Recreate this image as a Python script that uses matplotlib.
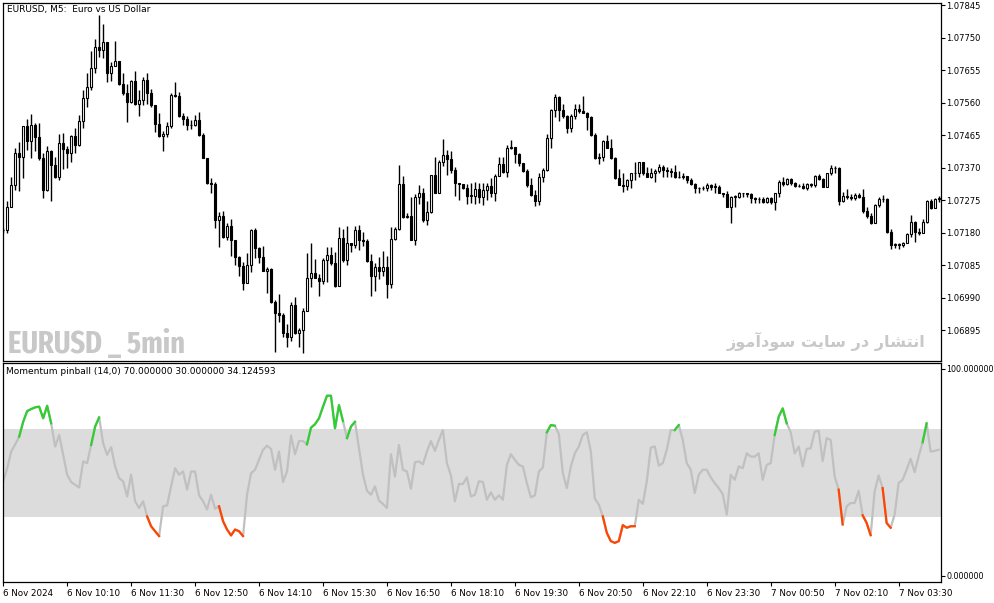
import numpy as np
import matplotlib
matplotlib.use("Agg")
import matplotlib.pyplot as plt
from matplotlib import font_manager

# EURUSD M5 candles, 6 Nov 2024 08:50 -> 7 Nov 2024 04:20
close = [
    1.07187, 1.07255, 1.07320, 1.07413, 1.07401, 1.07492, 1.07449, 1.07495, 1.07461, 1.07400,
    1.07305, 1.07419, 1.07377, 1.07344, 1.07442, 1.07424, 1.07413, 1.07463, 1.07437, 1.07507,
    1.07573, 1.07605, 1.07661, 1.07722, 1.07714, 1.07737, 1.07646, 1.07668, 1.07682, 1.07614,
    1.07588, 1.07563, 1.07624, 1.07556, 1.07568, 1.07627, 1.07588, 1.07554, 1.07497, 1.07463,
    1.07468, 1.07492, 1.07583, 1.07581, 1.07520, 1.07512, 1.07495, 1.07495, 1.07510, 1.07466,
    1.07398, 1.07325, 1.07323, 1.07218, 1.07230, 1.07169, 1.07200, 1.07159, 1.07111, 1.07082,
    1.07035, 1.07086, 1.07188, 1.07135, 1.07109, 1.07070, 1.07075, 1.06979, 1.06945, 1.06939,
    1.06887, 1.06875, 1.06968, 1.06887, 1.06896, 1.06952, 1.07047, 1.07062, 1.07049, 1.07040,
    1.07101, 1.07115, 1.07093, 1.07025, 1.07164, 1.07101, 1.07150, 1.07145, 1.07188, 1.07159,
    1.07155, 1.07098, 1.07055, 1.07079, 1.07070, 1.07079, 1.07031, 1.07161, 1.07190, 1.07323,
    1.07225, 1.07230, 1.07159, 1.07284, 1.07296, 1.07218, 1.07240, 1.07349, 1.07297, 1.07387,
    1.07407, 1.07396, 1.07364, 1.07325, 1.07323, 1.07310, 1.07289, 1.07289, 1.07307, 1.07284,
    1.07305, 1.07317, 1.07297, 1.07346, 1.07381, 1.07359, 1.07429, 1.07431, 1.07410, 1.07383,
    1.07362, 1.07320, 1.07291, 1.07274, 1.07342, 1.07364, 1.07456, 1.07539, 1.07576, 1.07539,
    1.07521, 1.07487, 1.07521, 1.07541, 1.07537, 1.07531, 1.07519, 1.07466, 1.07400, 1.07403,
    1.07448, 1.07429, 1.07398, 1.07339, 1.07320, 1.07318, 1.07333, 1.07354, 1.07354, 1.07386,
    1.07354, 1.07342, 1.07356, 1.07362, 1.07371, 1.07364, 1.07362, 1.07359, 1.07342, 1.07342,
    1.07346, 1.07334, 1.07322, 1.07310, 1.07310, 1.07312, 1.07320, 1.07315, 1.07315, 1.07297,
    1.07294, 1.07257, 1.07286, 1.07286, 1.07297, 1.07296, 1.07294, 1.07281, 1.07278, 1.07279,
    1.07271, 1.07281, 1.07271, 1.07296, 1.07330, 1.07322, 1.07336, 1.07327, 1.07317, 1.07318,
    1.07312, 1.07322, 1.07320, 1.07346, 1.07337, 1.07315, 1.07354, 1.07370, 1.07369, 1.07274,
    1.07288, 1.07286, 1.07281, 1.07291, 1.07286, 1.07245, 1.07229, 1.07210, 1.07261, 1.07278,
    1.07279, 1.07184, 1.07145, 1.07145, 1.07145, 1.07151, 1.07176, 1.07213, 1.07184, 1.07181,
    1.07213, 1.07273, 1.07252, 1.07278, 1.07281,
]
high = [
    1.07194, 1.07274, 1.07342, 1.07429, 1.07444, 1.07492, 1.07512, 1.07527, 1.07502, 1.07502,
    1.07413, 1.07434, 1.07422, 1.07403, 1.07469, 1.07473, 1.07434, 1.07466, 1.07486, 1.07524,
    1.07597, 1.07648, 1.07711, 1.07745, 1.07816, 1.07789, 1.07729, 1.07680, 1.07741, 1.07682,
    1.07646, 1.07615, 1.07627, 1.07653, 1.07597, 1.07636, 1.07648, 1.07599, 1.07554, 1.07531,
    1.07478, 1.07505, 1.07588, 1.07622, 1.07590, 1.07529, 1.07522, 1.07510, 1.07524, 1.07534,
    1.07471, 1.07398, 1.07340, 1.07330, 1.07242, 1.07244, 1.07208, 1.07220, 1.07159, 1.07113,
    1.07096, 1.07122, 1.07191, 1.07193, 1.07140, 1.07143, 1.07079, 1.07077, 1.06984, 1.07002,
    1.06947, 1.06914, 1.06978, 1.06992, 1.06901, 1.06962, 1.07122, 1.07150, 1.07104, 1.07060,
    1.07106, 1.07140, 1.07140, 1.07124, 1.07198, 1.07190, 1.07200, 1.07151, 1.07200, 1.07203,
    1.07182, 1.07161, 1.07118, 1.07091, 1.07109, 1.07127, 1.07113, 1.07196, 1.07198, 1.07378,
    1.07346, 1.07237, 1.07286, 1.07294, 1.07320, 1.07310, 1.07273, 1.07349, 1.07401, 1.07393,
    1.07453, 1.07422, 1.07420, 1.07371, 1.07327, 1.07323, 1.07323, 1.07327, 1.07330, 1.07327,
    1.07327, 1.07327, 1.07339, 1.07352, 1.07403, 1.07403, 1.07437, 1.07451, 1.07427, 1.07412,
    1.07385, 1.07366, 1.07339, 1.07305, 1.07356, 1.07369, 1.07468, 1.07541, 1.07585, 1.07581,
    1.07556, 1.07523, 1.07527, 1.07556, 1.07556, 1.07580, 1.07534, 1.07521, 1.07473, 1.07414,
    1.07451, 1.07466, 1.07453, 1.07403, 1.07366, 1.07354, 1.07336, 1.07356, 1.07386, 1.07386,
    1.07388, 1.07371, 1.07370, 1.07366, 1.07381, 1.07378, 1.07373, 1.07369, 1.07378, 1.07362,
    1.07356, 1.07346, 1.07339, 1.07327, 1.07315, 1.07317, 1.07325, 1.07323, 1.07325, 1.07320,
    1.07297, 1.07303, 1.07288, 1.07291, 1.07300, 1.07297, 1.07297, 1.07296, 1.07284, 1.07284,
    1.07286, 1.07286, 1.07284, 1.07297, 1.07334, 1.07344, 1.07339, 1.07339, 1.07330, 1.07323,
    1.07325, 1.07327, 1.07327, 1.07349, 1.07352, 1.07339, 1.07356, 1.07378, 1.07375, 1.07373,
    1.07300, 1.07307, 1.07294, 1.07297, 1.07296, 1.07307, 1.07255, 1.07237, 1.07264, 1.07286,
    1.07291, 1.07281, 1.07190, 1.07151, 1.07151, 1.07154, 1.07179, 1.07232, 1.07216, 1.07193,
    1.07220, 1.07276, 1.07278, 1.07281, 1.07288,
]
low = [
    1.07181, 1.07181, 1.07267, 1.07305, 1.07301, 1.07340, 1.07422, 1.07400, 1.07420, 1.07393,
    1.07283, 1.07301, 1.07274, 1.07340, 1.07333, 1.07366, 1.07369, 1.07388, 1.07413, 1.07434,
    1.07486, 1.07547, 1.07597, 1.07648, 1.07695, 1.07690, 1.07622, 1.07624, 1.07666, 1.07612,
    1.07583, 1.07505, 1.07559, 1.07554, 1.07522, 1.07554, 1.07557, 1.07549, 1.07476, 1.07461,
    1.07420, 1.07461, 1.07486, 1.07578, 1.07518, 1.07495, 1.07479, 1.07483, 1.07492, 1.07463,
    1.07398, 1.07323, 1.07296, 1.07194, 1.07140, 1.07164, 1.07158, 1.07113, 1.07086, 1.07055,
    1.07013, 1.07033, 1.07067, 1.07106, 1.07093, 1.07070, 1.07004, 1.06976, 1.06833, 1.06921,
    1.06875, 1.06846, 1.06865, 1.06885, 1.06848, 1.06830, 1.06955, 1.07021, 1.07047, 1.06996,
    1.07030, 1.07038, 1.07086, 1.07023, 1.07025, 1.07096, 1.07086, 1.07125, 1.07135, 1.07130,
    1.07143, 1.07096, 1.06996, 1.07011, 1.07044, 1.07054, 1.06989, 1.07018, 1.07158, 1.07188,
    1.07223, 1.07224, 1.07159, 1.07145, 1.07264, 1.07213, 1.07203, 1.07237, 1.07295, 1.07300,
    1.07375, 1.07349, 1.07356, 1.07288, 1.07276, 1.07307, 1.07264, 1.07266, 1.07264, 1.07268,
    1.07261, 1.07276, 1.07286, 1.07274, 1.07349, 1.07354, 1.07342, 1.07424, 1.07383, 1.07376,
    1.07359, 1.07315, 1.07288, 1.07259, 1.07261, 1.07330, 1.07362, 1.07427, 1.07517, 1.07508,
    1.07514, 1.07471, 1.07476, 1.07512, 1.07529, 1.07529, 1.07479, 1.07463, 1.07395, 1.07381,
    1.07391, 1.07427, 1.07395, 1.07336, 1.07320, 1.07300, 1.07305, 1.07310, 1.07334, 1.07344,
    1.07349, 1.07342, 1.07339, 1.07330, 1.07356, 1.07344, 1.07344, 1.07344, 1.07339, 1.07339,
    1.07336, 1.07325, 1.07320, 1.07297, 1.07296, 1.07305, 1.07303, 1.07305, 1.07297, 1.07297,
    1.07286, 1.07255, 1.07210, 1.07257, 1.07281, 1.07284, 1.07284, 1.07268, 1.07266, 1.07266,
    1.07266, 1.07268, 1.07264, 1.07247, 1.07286, 1.07317, 1.07320, 1.07320, 1.07315, 1.07313,
    1.07308, 1.07305, 1.07313, 1.07315, 1.07334, 1.07313, 1.07315, 1.07349, 1.07354, 1.07261,
    1.07271, 1.07278, 1.07276, 1.07276, 1.07281, 1.07237, 1.07223, 1.07206, 1.07210, 1.07257,
    1.07271, 1.07181, 1.07132, 1.07135, 1.07132, 1.07138, 1.07150, 1.07169, 1.07154, 1.07174,
    1.07179, 1.07208, 1.07249, 1.07252, 1.07271,
]
first_open = 1.07187

# Momentum pinball (14,0) values, one per bar
pinball = [
    46.1, 52.1, 59.7, 63.0, 66.5, 73.3, 78.2, 79.1, 79.9, 80.2,
    74.9, 80.6, 72.6, 62.0, 67.3, 58.2, 49.1, 45.8, 44.5, 43.3,
    55.2, 54.4, 62.7, 71.1, 75.3, 63.5, 58.2, 61.7, 52.9, 47.6,
    46.1, 39.2, 49.1, 37.0, 33.9, 37.0, 30.1, 25.6, 23.3, 21.1,
    34.7, 35.1, 43.8, 52.1, 49.1, 50.6, 42.3, 50.6, 50.6, 39.7,
    37.0, 33.2, 40.0, 33.6, 34.7, 27.9, 24.1, 21.4, 24.1, 23.3,
    21.1, 40.0, 49.8, 51.4, 55.9, 60.5, 62.4, 60.9, 51.4, 59.7,
    45.8, 50.6, 67.0, 58.5, 64.5, 64.5, 63.0, 70.6, 72.2, 74.9,
    80.2, 85.2, 85.2, 70.3, 80.9, 73.6, 65.8, 71.1, 73.3, 61.2,
    49.1, 41.8, 40.0, 43.8, 37.3, 35.8, 33.9, 58.5, 48.3, 62.7,
    51.4, 50.6, 42.7, 54.8, 55.2, 53.9, 59.7, 64.5, 60.0, 65.0,
    69.5, 54.4, 48.8, 37.0, 44.9, 44.9, 47.9, 39.2, 40.0, 46.1,
    45.8, 37.7, 41.1, 37.7, 39.7, 37.7, 53.6, 58.5, 55.9, 53.6,
    52.9, 45.3, 38.8, 39.7, 50.6, 52.4, 68.5, 71.8, 71.5, 67.7,
    49.8, 43.0, 52.9, 58.9, 62.0, 67.3, 68.5, 59.7, 38.2, 35.5,
    30.1, 22.6, 18.8, 18.0, 18.8, 26.1, 24.9, 25.6, 25.6, 37.7,
    35.8, 46.1, 61.5, 62.0, 53.3, 54.4, 60.5, 69.5, 69.5, 71.8,
    65.0, 54.4, 51.4, 40.8, 49.1, 51.4, 51.4, 47.9, 45.3, 43.0,
    40.3, 30.9, 49.1, 46.8, 52.9, 52.1, 58.9, 57.4, 57.4, 58.9,
    46.8, 53.6, 54.4, 67.3, 75.6, 79.4, 72.6, 68.5, 58.9, 62.0,
    52.9, 60.9, 61.2, 68.8, 69.1, 55.4, 65.8, 65.0, 48.3, 42.3,
    26.4, 34.7, 36.2, 36.2, 41.8, 30.6, 27.1, 21.5, 41.5, 48.8,
    43.0, 27.1, 24.9, 30.9, 45.3, 46.8, 51.4, 56.4, 50.3, 57.4,
    63.9, 72.6, 59.7, 60.0, 60.5,
]
# bar ranges where the indicator is drawn in its "up" / "down" colour
green_runs = [(4, 12), (22, 24), (76, 85), (86, 88), (136, 138), (168, 169), (193, 196), (230, 231)]
red_runs = [(36, 39), (54, 60), (150, 158), (209, 210), (215, 217), (220, 222)]

price_ticks = [1.07845, 1.07750, 1.07655, 1.07560, 1.07465, 1.07370,
               1.07275, 1.07180, 1.07085, 1.06990, 1.06895]
time_ticks = [0, 16, 32, 48, 64, 80, 96, 112, 128, 144, 160, 176, 192, 208, 224]
time_labels = ["6 Nov 2024", "6 Nov 10:10", "6 Nov 11:30", "6 Nov 12:50", "6 Nov 14:10",
               "6 Nov 15:30", "6 Nov 16:50", "6 Nov 18:10", "6 Nov 19:30", "6 Nov 20:50",
               "6 Nov 22:10", "6 Nov 23:30", "7 Nov 00:50", "7 Nov 02:10", "7 Nov 03:30"]

plt.rcParams['font.family'] = ['DejaVu Sans']
W, H = 994, 603
fig = plt.figure(figsize=(W / 100, H / 100), dpi=100)
fig.patch.set_facecolor('white')


def px_axes(x0, y0, x1, y1):
    return fig.add_axes([x0 / W, 1 - y1 / H, (x1 - x0) / W, (y1 - y0) / H])


def fit_width(txt, target_px):
    # shrink/grow a text until it spans target_px on the canvas
    r = fig.canvas.get_renderer()
    for _ in range(3):
        w = txt.get_window_extent(r).width
        txt.set_fontsize(txt.get_fontsize() * target_px / w)


def narrow_bold_font():
    # look for a condensed/narrow bold face for the big watermark
    best = None
    for f in font_manager.fontManager.ttflist:
        name = (f.fname + f.name).lower()
        if ('condensed' in name or 'narrow' in name) and 'semi' not in name \
                and 'italic' not in name and f.style == 'normal' and f.weight in (700, 'bold'):
            score = 0 if 'extracondensed' in name.replace(' ', '') else 1
            if best is None or score < best[0]:
                best = (score, f.fname)
    if best:
        return font_manager.FontProperties(fname=best[1])
    return font_manager.FontProperties(family='DejaVu Sans', weight='bold')


ax1 = px_axes(3, 2.7, 941, 361)
ax2 = px_axes(3, 363.3, 941, 582.3)

# ---- price panel
c = np.array(close)
o = np.r_[first_open, c[:-1]]  # M5 forex bars open at the previous close
x = np.arange(len(c))
up = c >= o
ax1.vlines(x, low, high, color='black', linewidth=1.0)
bottom = np.minimum(o, c)
height = np.maximum(np.abs(c - o), 0.000012)
ax1.bar(x[up], height[up], bottom=bottom[up], width=0.55, color='white',
        edgecolor='black', linewidth=0.8, zorder=3)
ax1.bar(x[~up], height[~up], bottom=bottom[~up], width=0.55, color='black',
        edgecolor='black', linewidth=0.8, zorder=3)

ax1.set_xlim(-0.05, 234.6)
ax1.set_ylim(1.068059, 1.078521)
ax1.yaxis.tick_right()
ax1.set_yticks(price_ticks)
ax1.set_yticklabels([f"{p:.5f}" for p in price_ticks])
ax1.tick_params(axis='y', length=3, width=0.8, pad=1, labelsize=6.0)
ax1.set_xticks([])

ax1.text(0.004, 0.993, "EURUSD, M5:  Euro vs US Dollar", transform=ax1.transAxes,
         fontsize=6.5, va='top', ha='left')

# watermarks
wm1 = fig.text(8 / W, 1 - 353 / H, "EURUSD _ 5min", fontproperties=narrow_bold_font(),
               fontsize=22, color='#c8c8c8', va='baseline', ha='left')
fit_width(wm1, 177)

# Persian watermark, written in presentation forms (matplotlib does no Arabic shaping)
fa_words = [
    "\uFE8D\uFEE7\uFE98\uFEB8\uFE8E\uFEAD",          # انتشار
    "\uFEA9\uFEAD",                                   # در
    "\uFEB3\uFE8E\uFEF3\uFE96",                       # سایت
    "\uFEB3\uFEEE\uFEA9\uFE81\uFEE3\uFEEE\uFEAF",     # سودآموز
]
fa_text = " ".join(fa_words)[::-1]
wm2 = fig.text(925 / W, 1 - 347 / H, fa_text, fontsize=13, fontweight='bold',
               color='#c8c8c8', va='baseline', ha='right')
fit_width(wm2, 200)

# ---- indicator panel
ax2.axhspan(30, 70, color='#dcdcdc', linewidth=0, zorder=0)
v = np.array(pinball)
ax2.plot(x, v, color='#c0c0c0', linewidth=1.6, zorder=2)
for s, e in green_runs:
    ax2.plot(x[s:e + 1], v[s:e + 1], color='#32cd32', linewidth=1.6, zorder=3)
for s, e in red_runs:
    ax2.plot(x[s:e + 1], v[s:e + 1], color='#ff4500', linewidth=1.6, zorder=3)

ax2.set_xlim(-0.05, 234.6)
ax2.set_ylim(0, 100)
ax2.yaxis.tick_right()
ax2.set_yticks([97.6, 2.9])
ax2.set_yticklabels(["100.000000", "0.000000"])
ax2.tick_params(axis='y', length=3, width=0.8, pad=1, labelsize=5.7)
ax2.set_xticks(time_ticks)
ax2.set_xticklabels(time_labels, ha='left')
ax2.tick_params(axis='x', length=3, width=0.8, pad=1.5, labelsize=6.3)
ax2.text(0.003, 0.985, "Momentum pinball (14,0) 70.000000 30.000000 34.124593",
         transform=ax2.transAxes, fontsize=6.5, va='top', ha='left')

for ax in (ax1, ax2):
    for sp in ax.spines.values():
        sp.set_linewidth(0.9)
        sp.set_color('black')

fig.savefig('out.png', dpi=100, facecolor='white')
